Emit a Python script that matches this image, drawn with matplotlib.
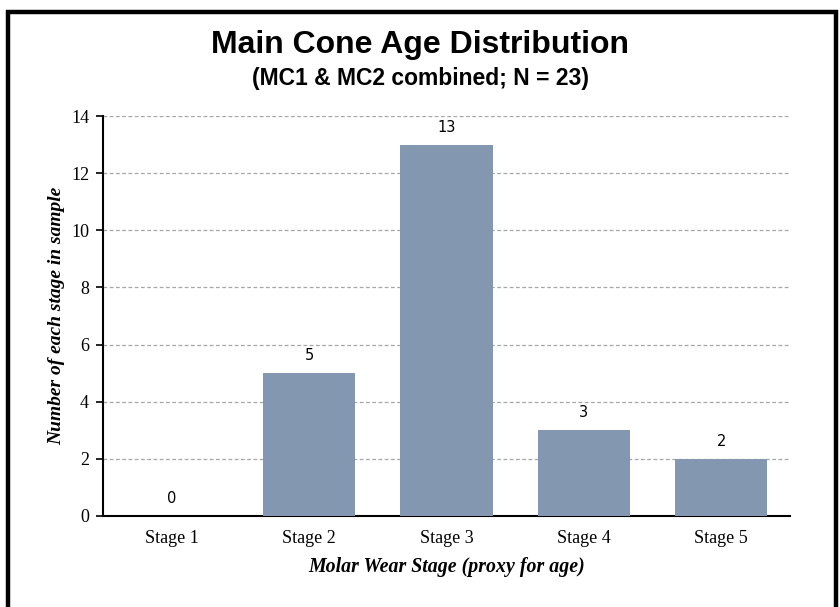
import matplotlib
matplotlib.use("Agg")
import matplotlib.pyplot as plt
from matplotlib.patches import Rectangle

# stage counts for the combined main cone sample
stages = ["Stage 1", "Stage 2", "Stage 3", "Stage 4", "Stage 5"]
counts = [0, 5, 13, 3, 2]
yticks = [0, 2, 4, 6, 8, 10, 12, 14]

bar_color = "#8497b0"
serif = ["Liberation Serif", "DejaVu Serif"]
sans = ["Liberation Sans", "DejaVu Sans"]

fig = plt.figure(figsize=(8.4, 6.07), dpi=100)
fig.patch.set_facecolor("white")

# black outline round the whole chart, bottom edge runs off the image
frame = Rectangle((7.5 / 840, -0.05), (836 - 7.5) / 840, 1.05 - 12 / 607,
                  transform=fig.transFigure, fill=False,
                  edgecolor="black", linewidth=3.2, zorder=10)
fig.patches.append(frame)

ax = fig.add_axes([103 / 840, 1 - 516 / 607, (790 - 103) / 840, (516 - 116) / 607])

x = list(range(len(stages)))
ax.bar(x, counts, width=0.67, color=bar_color, zorder=3)
for xi, c in zip(x, counts):
    ax.text(xi, c + 0.35, str(c), ha="center", va="bottom",
            fontsize=10.5, family="DejaVu Sans", color="black")

ax.set_xlim(-0.5, 4.5)
ax.set_ylim(0, 14)
ax.set_yticks(yticks)
ax.set_xticks(x)
ax.set_xticklabels(stages, family=serif, fontsize=13)
ax.set_yticklabels([str(t) for t in yticks], family=serif, fontsize=13)
ax.tick_params(axis="x", length=0, pad=10)
ax.tick_params(axis="y", direction="out", length=5, width=1.2, pad=5)

ax.grid(axis="y", linestyle=(0, (3, 2)), color="#a6a6a6", linewidth=0.9, zorder=0)
for side in ["top", "right"]:
    ax.spines[side].set_visible(False)
for side in ["left", "bottom"]:
    ax.spines[side].set_linewidth(1.5)

ax.set_xlabel("Molar Wear Stage (proxy for age)", family=serif, fontsize=14.3,
              style="italic", weight="bold", labelpad=7)
ax.set_ylabel("Number of each stage in sample", family=serif, fontsize=14,
              style="italic", weight="bold", labelpad=4)

fig.text(0.5, 1 - 45 / 607, "Main Cone Age Distribution", ha="center", va="center",
         family=sans, weight="bold", fontsize=23)
fig.text(0.5, 1 - 78 / 607, "(MC1 & MC2 combined; N = 23)", ha="center", va="center",
         family=sans, weight="bold", fontsize=16.5)

fig.savefig("out.png", dpi=100)
